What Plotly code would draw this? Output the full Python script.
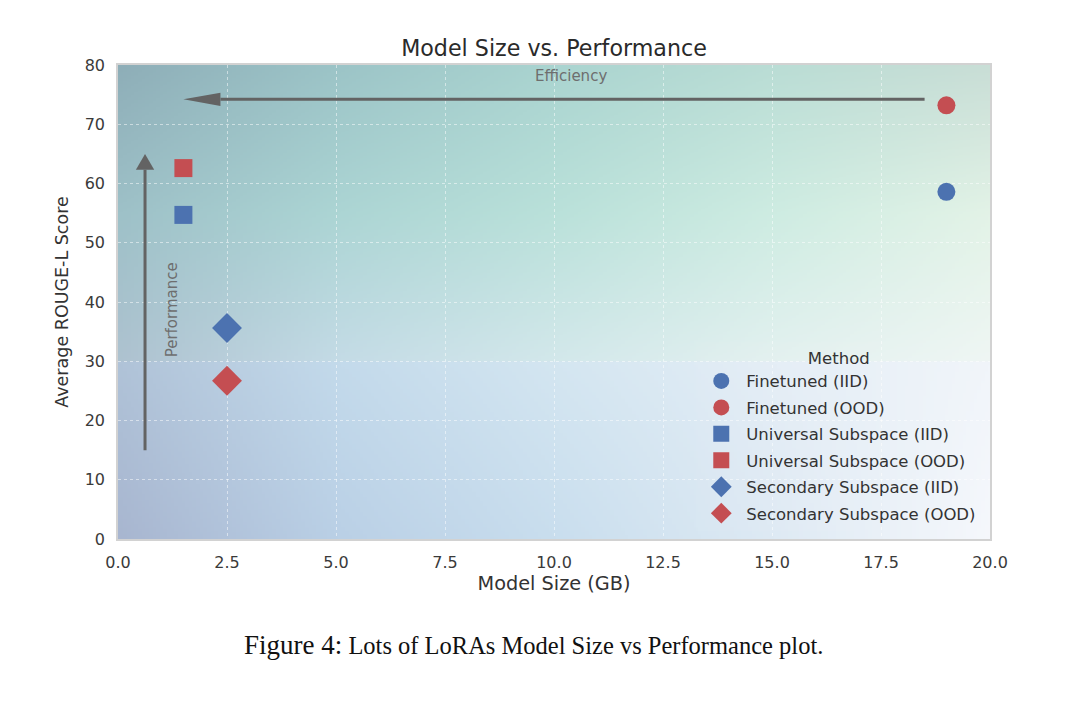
import base64
import struct
import zlib

import numpy as np
import plotly.graph_objects as go

# ---------------- data ----------------
methods = ["Finetuned (IID)", "Finetuned (OOD)",
           "Universal Subspace (IID)", "Universal Subspace (OOD)",
           "Secondary Subspace (IID)", "Secondary Subspace (OOD)"]
model_size_gb = [19.0, 19.0, 1.5, 1.5, 2.5, 2.5]
rouge_l = [58.6, 73.2, 54.7, 62.6, 35.6, 26.7]

x_ticks = [0, 2.5, 5, 7.5, 10, 12.5, 15, 17.5, 20]
y_ticks = [0, 10, 20, 30, 40, 50, 60, 70, 80]

# annotation arrows (data coordinates)
eff_start, eff_end, eff_y = 18.5, 1.5, 74.2
perf_x, perf_start, perf_end = 0.62, 15.0, 65.0

# ---------------- styles ----------------
BLUE = "#4C72B0"
RED = "#C44E52"
marker_colors = [BLUE, RED, BLUE, RED, BLUE, RED]
marker_symbols = ["circle", "circle", "square", "square", "diamond", "diamond"]
marker_sizes = [18, 18, 18, 18, 23, 23]

# ---------------- background gradient (PNG built in memory) ----------------
gx = np.array([0, 5, 10, 15, 20], dtype=float)
up_y = np.array([80, 55, 30.01], dtype=float)
up_c = np.array([
    [(142, 174, 184), (156, 196, 199), (170, 212, 208), (186, 221, 213), (201, 222, 214)],
    [(158, 193, 200), (172, 213, 212), (186, 225, 218), (206, 236, 226), (227, 243, 231)],
    [(174, 194, 208), (196, 219, 230), (211, 232, 235), (227, 241, 240), (239, 246, 244)],
], dtype=float)
lo_y = np.array([30, 0], dtype=float)
lo_c = np.array([
    [(176, 195, 216), (195, 218, 235), (212, 230, 241), (228, 238, 246), (241, 245, 250)],
    [(168, 182, 208), (186, 208, 230), (201, 222, 238), (222, 234, 244), (246, 248, 252)],
], dtype=float)

W, H = 240, 320
xs = (np.arange(W) + 0.5) * 20.0 / W
ys = 80 - (np.arange(H) + 0.5) * 80.0 / H


def interp_grid(gy, gc, yv):
    rows = np.stack([np.stack([np.interp(xs, gx, gc[r, :, k]) for k in range(3)], -1)
                     for r in range(len(gy))])
    order = np.argsort(gy)
    gys = gy[order]
    rows = rows[order]
    out = np.empty((len(yv), W, 3))
    for j in range(W):
        for k in range(3):
            out[:, j, k] = np.interp(yv, gys, rows[:, j, k])
    return out


img = np.empty((H, W, 3))
upper = ys > 30
img[upper] = interp_grid(up_y, up_c, ys[upper])
img[~upper] = interp_grid(lo_y, lo_c, ys[~upper])
img = np.clip(img, 0, 255).astype(np.uint8)


def png_bytes(a):
    h, w, _ = a.shape
    raw = b"".join(b"\x00" + a[i].tobytes() for i in range(h))

    def chunk(t, d):
        c = struct.pack(">I", len(d)) + t + d
        return c + struct.pack(">I", zlib.crc32(t + d) & 0xFFFFFFFF)

    return (b"\x89PNG\r\n\x1a\n" + chunk(b"IHDR", struct.pack(">IIBBBBB", w, h, 8, 2, 0, 0, 0))
            + chunk(b"IDAT", zlib.compress(raw, 9)) + chunk(b"IEND", b""))


bg_uri = "data:image/png;base64," + base64.b64encode(png_bytes(img)).decode()

# ---------------- figure ----------------
FONT = "DejaVu Sans"
fig = go.Figure()
for i, m in enumerate(methods):
    fig.add_trace(go.Scatter(
        x=[model_size_gb[i]], y=[rouge_l[i]], mode="markers", name=m,
        legendgroup=m,
        marker=dict(color=marker_colors[i], symbol=marker_symbols[i],
                    size=marker_sizes[i], line=dict(width=0)),
    ))

fig.add_layout_image(dict(source=bg_uri, xref="x", yref="y", x=0, y=80,
                          sizex=20, sizey=80, sizing="stretch", layer="below",
                          xanchor="left", yanchor="top"))

ARROW = "#636363"
# Efficiency arrow (right -> left): long narrow head
eh_len, eh_half = 0.85, 1.1
fig.add_shape(type="line", xref="x", yref="y", x0=eff_start, x1=eff_end + eh_len,
              y0=eff_y, y1=eff_y, line=dict(color=ARROW, width=3))
fig.add_shape(type="path", xref="x", yref="y", fillcolor=ARROW, line=dict(width=0),
              path=f"M {eff_end},{eff_y} L {eff_end + eh_len},{eff_y + eh_half} "
                   f"L {eff_end + eh_len},{eff_y - eh_half} Z")
fig.add_annotation(x=10.4, y=78.1, xref="x", yref="y", text="Efficiency",
                   showarrow=False, font=dict(family=FONT, size=15, color="#6e6e6e"))
# Performance arrow (bottom -> top)
ph_len, ph_half = 2.7, 0.21
fig.add_shape(type="line", xref="x", yref="y", x0=perf_x, x1=perf_x,
              y0=perf_start, y1=perf_end - ph_len, line=dict(color=ARROW, width=3))
fig.add_shape(type="path", xref="x", yref="y", fillcolor=ARROW, line=dict(width=0),
              path=f"M {perf_x},{perf_end} L {perf_x - ph_half},{perf_end - ph_len} "
                   f"L {perf_x + ph_half},{perf_end - ph_len} Z")
fig.add_annotation(x=1.24, y=38.6, xref="x", yref="y", text="Performance",
                   showarrow=False, textangle=-90,
                   font=dict(family=FONT, size=15, color="#6e6e6e"))

# caption
fig.add_annotation(
    x=0.476, y=-0.2236, xref="paper", yref="paper", showarrow=False,
    text='<span style="font-size:27px">Figure 4:</span> Lots of LoRAs Model Size vs Performance plot.',
    font=dict(family="Liberation Serif", size=24.5, color="#111111"),
    xanchor="center", yanchor="middle")

axis_common = dict(
    showline=True, mirror=True, linecolor="#d2d2d2", linewidth=1.5,
    showgrid=True, gridcolor="rgba(255,255,255,0.5)", griddash="dot", gridwidth=1,
    zeroline=False, ticks="", tickfont=dict(family=FONT, size=16, color="#3a3a3a"),
    ticklabelstandoff=8,
)
fig.update_xaxes(range=[0, 20], tickvals=x_ticks, tickformat=".1f",
                 title=dict(text="Model Size (GB)", standoff=6,
                            font=dict(family=FONT, size=19.3, color="#333333")),
                 **axis_common)
fig.update_yaxes(range=[0, 80], tickvals=y_ticks,
                 title=dict(text="Average ROUGE-L Score", standoff=12,
                            font=dict(family=FONT, size=17.5, color="#333333")),
                 **axis_common)

fig.update_layout(
    width=1072, height=694,
    margin=dict(l=110, r=90, t=57, b=163),
    paper_bgcolor="white", plot_bgcolor="white",
    title=dict(text="Model Size vs. Performance", x=0.5, xref="paper",
               y=1 - 40 / 694, yanchor="middle",
               font=dict(family=FONT, size=22.2, color="#2a2a2a")),
    legend=dict(
        title=dict(text="Method", side="top center",
                   font=dict(family=FONT, size=16.5, color="#333333")),
        x=0.99, y=0.415, xanchor="right", yanchor="top",
        bgcolor="rgba(255,255,255,0.04)", borderwidth=0,
        font=dict(family=FONT, size=16.5, color="#333333"),
        traceorder="grouped", tracegroupgap=2, itemsizing="trace", itemwidth=40,
    ),
    showlegend=True,
)

fig.write_html("out.html")
